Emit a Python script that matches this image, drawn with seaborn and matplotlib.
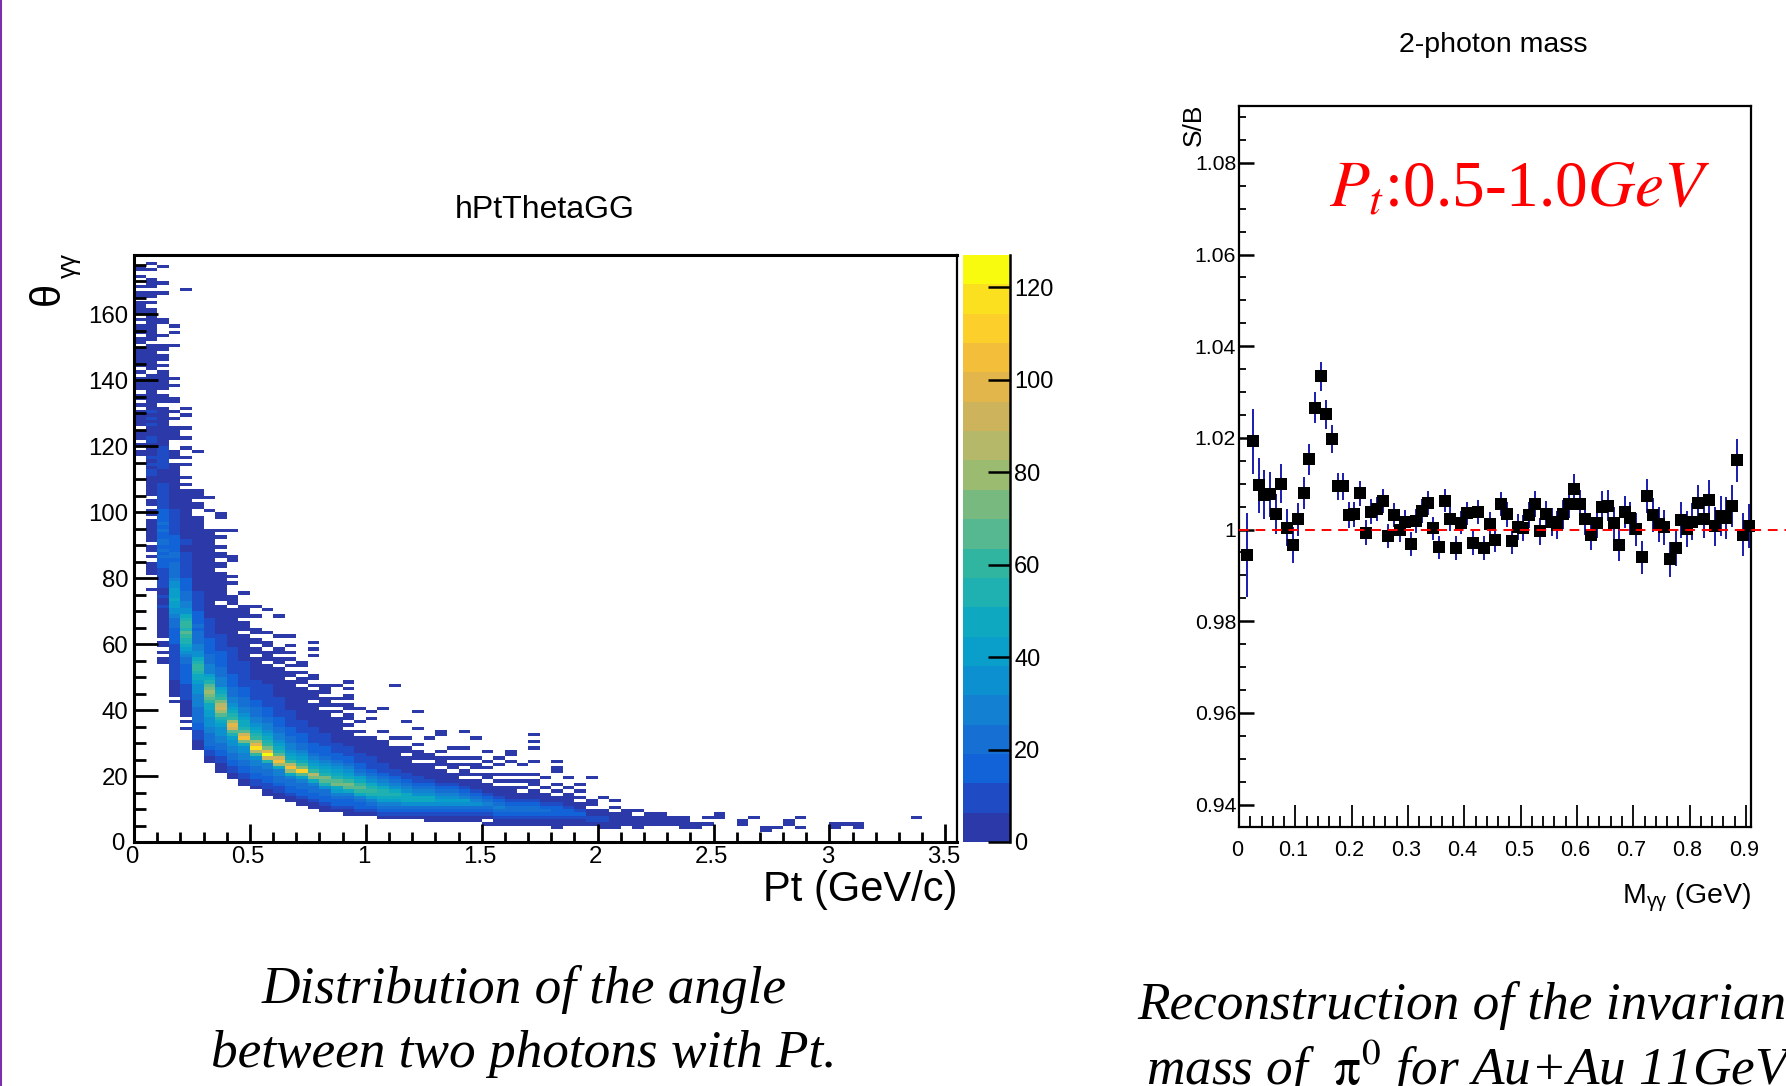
import numpy as np
import pandas as pd
import matplotlib
matplotlib.use("Agg")
import matplotlib.pyplot as plt
from matplotlib.colors import ListedColormap
from matplotlib.lines import Line2D
from matplotlib.transforms import ScaledTranslation
import seaborn as sns

# ====================== left panel data ======================
# one string per Pt bin (0.05 GeV wide), one character per 1 degree bin going up
# from theta_start. '.' is an empty cell, the rest is the palette level of the cell
level_chars = "123456789abcdefghijk"
max_count = 127
theta_start = [117, 76, 54, 42, 34, 28, 24, 21, 19, 17, 16, 14, 13, 12, 11, 10, 9, 9, 8, 8,
               8, 7, 7, 7, 7, 6, 6, 6, 6, 6, 5, 5, 5, 5, 5, 5, 4, 5, 5, 5,
               4, 4, 5, 4, 5, 5, 5, 4, 4, 5, 7, 0, 5, 7, 3, 4, 5, 4, 0, 0,
               4, 5, 4, 0, 0, 0, 0, 7]
theta_levels = [
    "11.1.111.11111.1.11.1111.1.111111.11.111.1.1111.11.1..1.11",
    "1....1111.1.11.1111111.11.11.111111221212111122111212121111111111"
    "1.11111111.1111111111.1.11.111..1.1",
    "11.1.11.11" "1111111211211222" "22233343434" "4334343333" "222222221111"
    "222222211111111111" "1.111." "111111" "." "1" "." "11" "." "11" ".." "1" "..." "11"
    "......." "1" ".." "1" "...." "1",
    "1.1111" "1222222222223" "333344" "45667787776654" "4444344333" "3322222222"
    "1111111111111" "1.111" "..." "1111" ".." "1" "." "1" ".." "11" "..." "1" "." "1"
    "........." "1" "..." "1" "." "1",
    "1.1.11111222" "2233333344" "56789" "9ab9aa98" "665544433" "332222222211" "22111111111"
    "111111" "." "1" "." "1" "..." "1" "." "1" ".." "1" ".." "1" ".." "1" "..." "1" "." "1"
    "..................................." "1",
    "1112" "223344444" "55556667" "889aa98" "66554" "44434333" "32222221111" "1111111111"
    "111111111" ".." "11" "." "111" "..........." "1",
    "1122" "34444" "556667" "788" "abcdcb" "987" "55544433" "3332222221" "11111111111"
    "1111111111111" "11" "....." "1" "..." "1",
    "111" "223344" "556667" "89" "bdfec" "a987" "555444333" "3322222111" "111111.11111111"
    "1.11.11." "1..1." "1" "..." "11",
    "112" "23344" "55667" "9bfgd" "a9876" "554443333" "2222222211" "1111111111.11"
    "1...1.1" "...." "11" "......." "1",
    "11" "22334" "45566" "8chfb" "98876" "55444333" "222222221111" "1111.111.1111" "..." "1",
    "1" "22334" "4556" "aejgd" "a9876" "5544433" "222222111111" "1.11.11.11" "..." "1" ".." "1",
    "112233" "4455" "9fkgc" "a9876" "5544333" "222222211111" "1.111.11" ".." "1" "......" "1",
    "11223" "4455" "8dhfb" "98765" "5443332" "222221111111" "11.11.11" "..." "1" "....." "1",
    "1123" "3445" "8dhea" "87655" "4433322" "22211111111" "1.11.1.1" ".1.1..1",
    "1123" "3445" "7bica" "87654" "4333222" "2111111111" "1.11.1.1" "1",
    "1123" "3445" "8cea" "87654" "3332222" "21111111.11" "1.1.11" "....." "1.1.1",
    "112" "3344" "69bc9" "87654" "33322221" "111111.11" "1.11" "1",
    "12" "334" "578cb9" "87654" "33222111" "11111.1.1" ".1...1",
    "112" "3345" "8bca" "87654" "33222111" "11.1.11.1" "1.11.1.1",
    "12" "3345" "8aba" "87543" "32221111" "1.1..1...1",
    "1234579a9865432222111111" "....." "1" "." "1",
    "1234578998654322211111" "11" ".." "1" "......" "1",
    "123457898654322111" "1111" ".." "1" "..............." "1",
    "12346888654322111" "11.11" ".." "1" "...." "1",
    "1234688654322111" "1.111.1" "...." "1" "...." "1",
    "1123468865432111" "11.11" "...." "1",
    "112346765432111" "1.111.1" "...." "11",
    "11234676543211" "1.11.1" ".." "1",
    "1123467543211" ".11.1.1" ".." "1" "...." "1",
    "112346543211" "1.1.11.1" "....." "1",
    "1.1234543211" "1.11.1.1" ".." "1",
    "112345432111" ".1.1..1.1",
    "11234432111" "1.1.1...1.11",
    "1123443211" ".1.1.1..1",
    "1123443211" "1.11.1...1" "...1.1.1",
    "112343211" "1.1..1",
    "1112333211" ".1.1...11.1",
    "11233211" "11.1..1",
    "1123211" ".1.1.1",
    "12211" ".11......1",
    "112211" "...1",
    "11111.1.1",
    "11111",
    "1111.1",
    "1111",
    "1111",
    "111",
    "1111",
    "11",
    "1.1",
    "11",
    "",
    "11",
    "1",
    "11",
    "1",
    "11",
    "1..1",
    "",
    "",
    "11",
    "1",
    "11",
    "",
    "",
    "",
    "",
    "1",
]
palette = ["#2b3aa8", "#1f4cc4", "#1262d8", "#1670d4", "#1480d2", "#0d90d0", "#0a9ecb", "#0ea8c0",
           "#1fb0b2", "#30b5a0", "#55b890", "#78b97f", "#9bbc70", "#b5b868", "#cdb35c", "#e2b64a",
           "#f3be3a", "#fdcf2a", "#fbe01f", "#f9fb0e"]

# ====================== right panel data ======================
mass = [0.015 + 0.01 * i for i in range(90)]
ratio = [0.9945, 1.0193, 1.0097, 1.0076, 1.0077, 1.0034, 1.0100, 1.0004, 0.9966, 1.0022,
         1.0079, 1.0153, 1.0266, 1.0334, 1.0251, 1.0198, 1.0094, 1.0094, 1.0031, 1.0033,
         1.0079, 0.9993, 1.0039, 1.0045, 1.0063, 0.9985, 1.0032, 0.9998, 1.0017, 0.9969,
         1.0019, 1.0041, 1.0057, 1.0003, 0.9961, 1.0063, 1.0023, 0.9959, 1.0015, 1.0035,
         0.9970, 1.0039, 0.9959, 1.0013, 0.9978, 1.0055, 1.0033, 0.9974, 1.0005, 1.0004,
         1.0031, 1.0056, 0.9996, 1.0033, 1.0016, 1.0010, 1.0033, 1.0056, 1.0089, 1.0055,
         1.0022, 0.9989, 1.0015, 1.0049, 1.0052, 1.0014, 0.9967, 1.0039, 1.0025, 1.0001,
         0.9939, 1.0073, 1.0031, 1.0011, 1.0005, 0.9935, 0.9959, 1.0020, 1.0001, 1.0017,
         1.0057, 1.0023, 1.0065, 1.0007, 1.0029, 1.0025, 1.0052, 1.0151, 0.9989, 1.0007]
ratio_err = [0.0092, 0.0071, 0.0060, 0.0053, 0.0049, 0.0044, 0.0042, 0.0040, 0.0040, 0.0036,
             0.0035, 0.0033, 0.0033, 0.0032, 0.0031, 0.0030, 0.0030, 0.0030, 0.0028, 0.0028,
             0.0027, 0.0027, 0.0027, 0.0027, 0.0026, 0.0026, 0.0026, 0.0026, 0.0026, 0.0026,
             0.0026, 0.0026, 0.0026, 0.0025, 0.0025, 0.0025, 0.0026, 0.0026, 0.0025, 0.0025,
             0.0026, 0.0026, 0.0026, 0.0026, 0.0027, 0.0026, 0.0027, 0.0027, 0.0028, 0.0028,
             0.0028, 0.0029, 0.0029, 0.0029, 0.0030, 0.0030, 0.0031, 0.0031, 0.0032, 0.0032,
             0.0033, 0.0033, 0.0034, 0.0034, 0.0034, 0.0035, 0.0035, 0.0035, 0.0036, 0.0036,
             0.0036, 0.0037, 0.0037, 0.0038, 0.0038, 0.0038, 0.0039, 0.0039, 0.0040, 0.0040,
             0.0040, 0.0041, 0.0042, 0.0043, 0.0044, 0.0045, 0.0046, 0.0047, 0.0047, 0.0048]

pt_ticks = [0, 0.5, 1, 1.5, 2, 2.5, 3, 3.5]
theta_ticks = [0, 20, 40, 60, 80, 100, 120, 140, 160]
count_ticks = [0, 20, 40, 60, 80, 100, 120]
mass_ticks = [0, 0.1, 0.2, 0.3, 0.4, 0.5, 0.6, 0.7, 0.8, 0.9]
ratio_ticks = [0.94, 0.96, 0.98, 1.0, 1.02, 1.04, 1.06, 1.08]
ratio_labels = ["0.94", "0.96", "0.98", "1", "1.02", "1.04", "1.06", "1.08"]

W, H = 1786, 1086
SANS = "Liberation Sans"
SERIF = "Liberation Serif"


def axes_px(fig, left, top, right, bottom):
    return fig.add_axes([left / W, 1 - bottom / H, (right - left) / W, (bottom - top) / H])


def text_px(fig, x, y, s, **kw):
    return fig.text(x / W, 1 - y / H, s, **kw)


if __name__ == "__main__":
    sns.set_theme(style="white")
    plt.rcParams["font.family"] = [SANS, "DejaVu Sans"]
    plt.rcParams["mathtext.fontset"] = "custom"
    plt.rcParams["mathtext.rm"] = SANS
    plt.rcParams["mathtext.it"] = SANS + ":italic"
    plt.rcParams["mathtext.bf"] = SANS + ":bold"
    plt.rcParams["axes.axisbelow"] = False

    fig = plt.figure(figsize=(W / 100, H / 100), dpi=100, facecolor="white")

    # 1. theta vs Pt histogram
    grid = np.full((178, 71), np.nan)
    for col, (start, levels) in enumerate(zip(theta_start, theta_levels)):
        for k, c in enumerate(levels):
            if c != ".":
                grid[start + k, col] = (level_chars.index(c) + 0.5) * max_count / len(palette)
    df = pd.DataFrame(grid)

    ax1 = axes_px(fig, 134, 255, 957, 842)
    cax = axes_px(fig, 963, 255, 1010, 842)
    sns.heatmap(df, mask=df.isna(), cmap=ListedColormap(palette), vmin=0, vmax=max_count,
                xticklabels=False, yticklabels=False, ax=ax1, cbar_ax=cax)
    ax1.set_xlim(0, 71)
    ax1.set_ylim(0, 178)
    for s in ax1.spines.values():
        s.set_visible(True)
        s.set_color("black")
        s.set_linewidth(2.2)
    ax1.spines["right"].set_linewidth(1.6)
    ax1.set_xticks([p / 0.05 for p in pt_ticks])
    ax1.set_xticklabels([str(p) for p in pt_ticks], fontsize=17.3)
    ax1.set_yticks(theta_ticks)
    ax1.set_yticklabels([str(t) for t in theta_ticks], fontsize=17.3)
    ax1.set_xticks(np.arange(0, 71, 2), minor=True)
    ax1.set_yticks(np.arange(0, 178, 5), minor=True)
    ax1.tick_params(axis="x", which="major", bottom=True, direction="in", length=13, width=2, color="black", pad=3, labelcolor="black")
    ax1.tick_params(axis="x", which="minor", bottom=True, direction="in", length=7, width=2, color="black")
    ax1.tick_params(axis="y", which="major", left=True, direction="in", length=17, width=2, color="black", pad=4, labelcolor="black")
    ax1.tick_params(axis="y", which="minor", left=True, direction="in", length=8.5, width=2, color="black")
    shift = ScaledTranslation(-2 / 100, 0, fig.dpi_scale_trans)
    for lab in ax1.get_xticklabels():
        lab.set_transform(lab.get_transform() + shift)
    # the 0 of the y axis sits clear of the 0 of the x axis
    y0 = ax1.get_yticklabels()[0]
    y0.set_transform(y0.get_transform() + ScaledTranslation(-4 / 100, 0, fig.dpi_scale_trans))

    cb = ax1.collections[0].colorbar
    cb.outline.set_visible(False)
    cb.set_ticks(count_ticks)
    cax.set_axisbelow(False)
    cax.spines["right"].set_visible(True)
    cax.spines["right"].set_color("black")
    cax.spines["right"].set_linewidth(1.8)
    cax.tick_params(axis="y", right=True, direction="in", length=16, width=1.8, color="black", pad=3,
                    labelsize=17, labelcolor="black")

    text_px(fig, 545, 210, "hPtThetaGG", fontsize=23, ha="center", va="center", color="black")
    text_px(fig, 958, 890, "Pt (GeV/c)", fontsize=30, ha="right", va="center", color="black")
    text_px(fig, 48, 293, "\u03b8", fontsize=30, rotation=90, ha="center", va="center", color="black")
    text_px(fig, 69, 266, "\u03b3\u03b3", fontsize=18, rotation=90, ha="center", va="center", color="black")

    # 2. S/B of the 2-photon mass
    ax2 = axes_px(fig, 1239, 106, 1751, 827)
    ax2.errorbar(mass, ratio, yerr=ratio_err, fmt="none", ecolor="#0a0aa8", elinewidth=1.3, zorder=2, clip_on=False)
    sns.scatterplot(x=mass, y=ratio, marker="s", s=85, color="black", linewidth=0, zorder=3, ax=ax2, clip_on=False)
    ax2.plot([0, 0.972], [1, 1], color="red", lw=1.4, ls=(0, (5, 3.5)), zorder=4, clip_on=False)
    ax2.set_xlim(0, 0.909)
    ax2.set_ylim(0.9351, 1.0924)
    for s in ax2.spines.values():
        s.set_visible(True)
        s.set_color("black")
        s.set_linewidth(1.6)
    ax2.set_xticks(mass_ticks)
    ax2.set_xticklabels([str(m) for m in mass_ticks], fontsize=15.5)
    ax2.set_yticks(ratio_ticks)
    ax2.set_yticklabels(ratio_labels, fontsize=15.3)
    ax2.set_xticks(np.arange(0, 0.9, 0.02), minor=True)
    ax2.set_yticks(np.arange(0.94, 1.09, 0.005), minor=True)
    ax2.tick_params(axis="x", which="major", bottom=True, direction="in", length=16, width=1.3, color="black", pad=9.5, labelcolor="black")
    ax2.tick_params(axis="x", which="minor", bottom=True, direction="in", length=8, width=1.3, color="black")
    ax2.tick_params(axis="y", which="major", left=True, direction="in", length=10.5, width=1.8, color="black", pad=2, labelcolor="black")
    ax2.tick_params(axis="y", which="minor", left=True, direction="in", length=5, width=1.3, color="black")
    for lab in ax2.get_xticklabels():
        lab.set_transform(lab.get_transform() + ScaledTranslation(-2 / 100, 0, fig.dpi_scale_trans))

    text_px(fig, 1493, 45, "2-photon mass", fontsize=20.5, ha="center", va="center", color="black")
    text_px(fig, 1194, 104, "S/B", fontsize=19, rotation=90, ha="center", va="top", color="black")
    text_px(fig, 1751, 898, r"$\mathrm{M_{\gamma\gamma}}$ (GeV)", fontsize=20.5, ha="right", va="center", color="black")
    text_px(fig, 1329, 207, r"$\mathit{P_t}$:0.5-1.0$\mathit{GeV}$", fontsize=47, color="red", family=SERIF,
            math_fontfamily="stix", ha="left", va="baseline")

    # 3. captions under the panels
    cap = dict(family=SERIF, style="italic", fontsize=38.3, color="black", va="center")
    text_px(fig, 524, 990, "Distribution of the angle", ha="center", **cap)
    text_px(fig, 524, 1054, "between two photons with Pt.", ha="center", **cap)
    text_px(fig, 1137, 1005, "Reconstruction of the invariant", ha="left", **cap)
    text_px(fig, 1146, 1068, r"mass of  $\mathrm{\pi^{0}}$ for Au+Au 11GeV", ha="left",
            math_fontfamily="stix", **cap)

    # purple rule on the left edge of the slide
    fig.add_artist(Line2D([0.5 / W, 0.5 / W], [0, 1], color="#7b2fa8", lw=1.5))

    fig.savefig("out.png", dpi=100)
